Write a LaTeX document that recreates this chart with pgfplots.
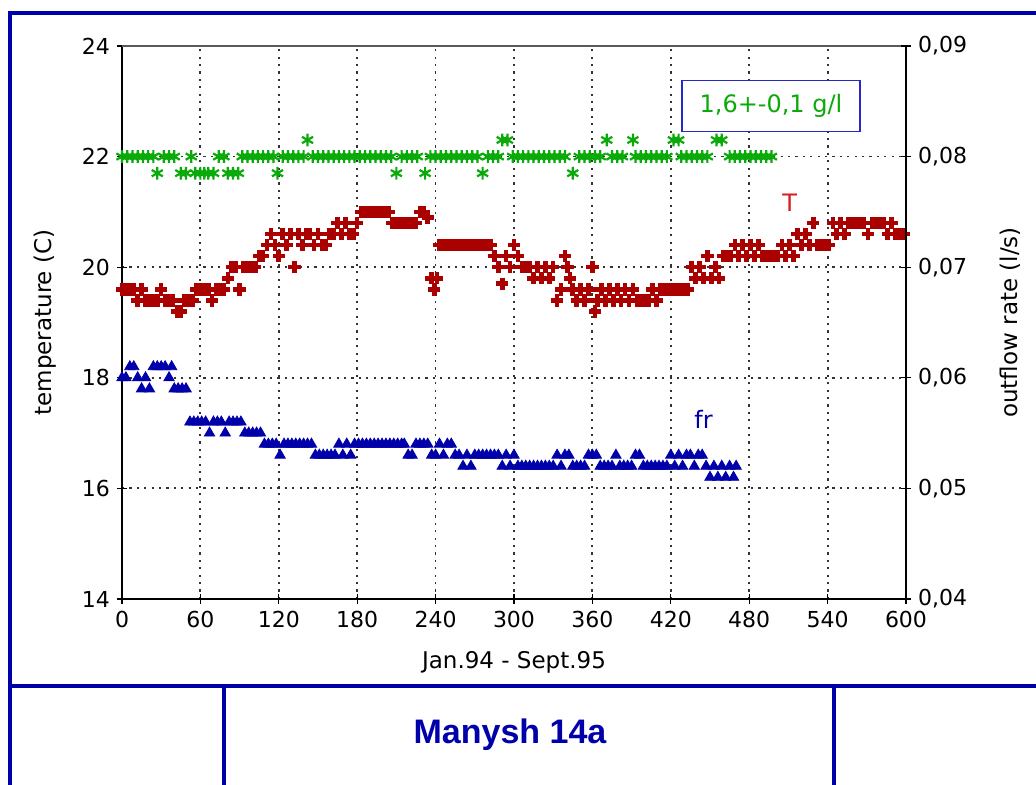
\documentclass[border=0pt]{standalone}
\usepackage{fontspec}
\setmainfont{DejaVu Sans}
\newfontfamily\libsans{Liberation Sans}
\usepackage{pgfplots}
\pgfplotsset{compat=1.18}
\definecolor{tred}{RGB}{170,0,0}
\definecolor{lred}{RGB}{215,30,30}
\definecolor{fblue}{RGB}{0,0,170}
\definecolor{sgreen}{RGB}{10,170,10}
\definecolor{frameblue}{RGB}{0,0,170}
\definecolor{boxblue}{RGB}{40,40,200}
\begin{document}
\begin{tikzpicture}
\path[use as bounding box] (-61pt,-93pt) rectangle (457pt,299.5pt);
\pgfplotsset{
  base/.style={width=392pt,height=276.5pt,scale only axis,
    xmin=0,xmax=600,
    tick label style={font=\fontsize{11}{13}\selectfont},
    label style={font=\fontsize{11.5}{13}\selectfont},
    /pgf/number format/assume math mode=true,
    tick align=center, major tick length=5pt,
    axis line style={black,line width=0.6pt},
    tick style={black,line width=0.6pt},
    clip=false}
}
\begin{axis}[base,
  ymin=14,ymax=24, ytick={14,16,18,20,22,24},
  xtick={0,60,120,180,240,300,360,420,480,540,600},
  axis x line*=bottom, axis y line*=left,
  grid=major, major grid style={black!80,line width=0.9pt,dash pattern=on 1.1pt off 2.6pt},
  ylabel={temperature (C)},
  ylabel style={at={(axis description cs:-0.098,0.5)},anchor=center},
  xlabel={Jan.94 - Sept.95},
  xlabel style={at={(axis description cs:0.5,-0.114)},anchor=center},
]
\draw[gray!70!black,line width=0.8pt] (axis cs:0,24) -- (axis cs:600,24);
% salinity (green)
\addplot[only marks, mark=asterisk, mark size=3.2pt, sgreen, line width=1.1pt] coordinates {
(0,22)(4,22)(8,22)(12,22)(16,22)(20,22)(24,22)(27,21.7)(32,22)(36,22)(40,22)
(45,21.7)(49,21.7)(53,22)(56,21.7)(60,21.7)(63,21.7)(66,21.7)(70,21.7)(74,22)(78,22)
(81,21.7)(85,21.7)(89,21.7)(92,22)(96,22)(100,22)(104,22)(108,22)(112,22)(116,22)
(119,21.7)(123,22)(127,22)(131,22)(135,22)(139,22)(142,22.3)(146,22)(150,22)(154,22)
(158,22)(162,22)(166,22)(170,22)(174,22)(178,22)(182,22)(186,22)(190,22)(194,22)
(198,22)(202,22)(206,22)(210,21.7)(214,22)(218,22)(222,22)(226,22)(232,21.7)(236,22)
(240,22)(244,22)(248,22)(252,22)(256,22)(260,22)(264,22)(268,22)(272,22)(276,21.7)
(280,22)(284,22)(288,22)(291,22.3)(295,22.3)(299,22)(303,22)(307,22)(311,22)(315,22)
(319,22)(323,22)(327,22)(331,22)(335,22)(339,22)(345,21.7)(350,22)(354,22)(358,22)
(362,22)(366,22)(371,22.3)(375,22)(379,22)(383,22)(391,22.3)(393,22)(397,22)(401,22)
(405,22)(409,22)(413,22)(417,22)(422,22.3)(426,22.3)(428,22)(432,22)(436,22)(440,22)
(444,22)(448,22)(455,22.3)(459,22.3)(465,22)(469,22)(473,22)(477,22)(481,22)(485,22)
(489,22)(493,22)(497,22)
};
% temperature (red)
\addplot[only marks, mark=+, mark size=3.1pt, tred, line width=2.3pt] coordinates {
(0,19.6)(3,19.6)(6,19.6)(9,19.6)(12,19.4)(15,19.6)(18,19.4)(21,19.4)(24,19.4)(27,19.4)
(30,19.6)(33,19.4)(36,19.4)(39,19.4)(42,19.2)(45,19.2)(48,19.4)(51,19.4)(54,19.4)(57,19.6)
(60,19.6)(63,19.6)(66,19.6)(69,19.4)(72,19.6)(75,19.6)(78,19.6)(81,19.8)(84,20.0)(87,20.0)
(90,19.6)(93,20.0)(96,20.0)(99,20.0)(102,20.0)(105,20.2)(108,20.2)(111,20.4)(114,20.6)(117,20.4)
(120,20.2)(123,20.6)(126,20.4)(129,20.6)(132,20.0)(135,20.6)(138,20.4)(141,20.6)(144,20.6)(147,20.4)
(150,20.6)(153,20.4)(156,20.4)(159,20.6)(162,20.6)(165,20.8)(168,20.6)(171,20.8)(174,20.6)(177,20.6)
(180,20.8)(183,21.0)(186,21.0)(189,21.0)(192,21.0)(195,21.0)(198,21.0)(201,21.0)(204,21.0)(207,20.8)
(210,20.8)(213,20.8)(216,20.8)(219,20.8)(222,20.8)(225,20.8)(228,21.0)(231,21.0)(234,20.9)(237,19.8)
(239,19.6)(241,19.8)(243,20.4)(246,20.4)(249,20.4)(252,20.4)(255,20.4)(258,20.4)(261,20.4)(264,20.4)
(267,20.4)(270,20.4)(273,20.4)(276,20.4)(279,20.4)(282,20.4)(285,20.2)(288,20.0)(291,19.7)(294,20.2)
(297,20.0)(300,20.4)(303,20.2)(306,20.0)(309,20.0)(312,20.0)(315,19.8)(318,20.0)(321,19.8)(324,20.0)
(327,19.8)(330,20.0)(333,19.4)(336,19.6)(339,20.2)(341,20.0)(343,19.8)(345,19.6)(348,19.4)(351,19.6)
(354,19.4)(357,19.6)(360,20.0)(362,19.2)(364,19.4)(367,19.6)(370,19.4)(373,19.6)(376,19.4)(379,19.6)
(382,19.4)(385,19.6)(388,19.4)(391,19.6)(394,19.4)(397,19.4)(400,19.4)(403,19.4)(406,19.6)(409,19.4)
(412,19.6)(415,19.6)(418,19.6)(421,19.6)(424,19.6)(427,19.6)(430,19.6)(433,19.6)(436,20.0)(439,19.8)
(442,20.0)(445,19.8)(448,20.2)(451,19.8)(454,20.0)(457,19.8)(460,20.2)(463,20.2)(466,20.2)(469,20.4)
(472,20.2)(475,20.4)(478,20.2)(481,20.4)(484,20.2)(487,20.4)(490,20.2)(493,20.2)(496,20.2)(499,20.2)
(502,20.2)(505,20.4)(508,20.2)(511,20.4)(514,20.2)(517,20.6)(520,20.4)(523,20.6)(526,20.4)(529,20.8)
(532,20.4)(535,20.4)(538,20.4)(541,20.4)(544,20.8)(547,20.6)(550,20.8)(553,20.6)(556,20.8)(559,20.8)
(562,20.8)(565,20.8)(568,20.8)(571,20.6)(574,20.8)(577,20.8)(580,20.8)(583,20.8)(586,20.6)(589,20.8)
(592,20.6)(595,20.6)(598,20.6)
};
\node[font=\fontsize{12}{14}\selectfont, text=lred] at (axis cs:511,21.16) {T};
\node[font=\fontsize{12}{14}\selectfont, text=fblue] at (axis cs:445,17.24) {fr};
\node[draw=boxblue, fill=white, line width=0.7pt, minimum width=89pt, minimum height=25.5pt,
  text=sgreen, font=\fontsize{12}{14}\selectfont, inner sep=2pt] at (axis cs:496.7,22.92) {1,6+-0,1 g/l\hspace{4pt}};
\end{axis}
\begin{axis}[base,
  ymin=0.04,ymax=0.09, ytick={0.04,0.05,0.06,0.07,0.08,0.09},
  scaled y ticks=false,
  yticklabel style={/pgf/number format/.cd,use comma,fixed,fixed zerofill,precision=2},
  axis y line*=right, axis x line=none,
  ylabel={outflow rate (l/s)},
  ylabel style={at={(axis description cs:1.133,0.5)},anchor=center},
]
\addplot[only marks, mark=triangle*, mark size=3pt, fblue] coordinates {
(0,0.060)(3,0.060)(6,0.061)(9,0.061)(12,0.060)(15,0.059)(18,0.060)(21,0.059)(24,0.061)(27,0.061)
(30,0.061)(33,0.061)(36,0.060)(38,0.061)(40,0.059)(43,0.059)(46,0.059)(49,0.059)(52,0.056)(55,0.056)
(58,0.056)(61,0.056)(64,0.056)(67,0.055)(70,0.056)(73,0.056)(76,0.056)(79,0.055)(82,0.056)(85,0.056)
(88,0.056)(91,0.056)(94,0.055)(97,0.055)(100,0.055)(103,0.055)(106,0.055)(109,0.054)(112,0.054)(115,0.054)
(118,0.054)(121,0.053)(124,0.054)(127,0.054)(130,0.054)(133,0.054)(136,0.054)(139,0.054)(142,0.054)(145,0.054)
(148,0.053)(151,0.053)(154,0.053)(157,0.053)(160,0.053)(163,0.053)(166,0.054)(169,0.053)(172,0.054)(175,0.053)
(178,0.054)(181,0.054)(184,0.054)(187,0.054)(190,0.054)(193,0.054)(196,0.054)(199,0.054)(202,0.054)(205,0.054)
(208,0.054)(211,0.054)(214,0.054)(216,0.054)(219,0.053)(222,0.053)(225,0.054)(228,0.054)(231,0.054)(234,0.054)
(237,0.053)(240,0.053)(243,0.054)(246,0.053)(249,0.054)(252,0.054)(255,0.053)(258,0.053)(261,0.052)(264,0.053)
(267,0.052)(270,0.053)(273,0.053)(276,0.053)(279,0.053)(282,0.053)(285,0.053)(288,0.053)(291,0.052)(294,0.053)
(297,0.052)(300,0.053)(303,0.052)(306,0.052)(309,0.052)(312,0.052)(315,0.052)(318,0.052)(321,0.052)(324,0.052)
(327,0.052)(330,0.052)(333,0.053)(336,0.052)(339,0.053)(342,0.053)(345,0.052)(348,0.052)(351,0.052)(354,0.052)
(357,0.053)(360,0.053)(363,0.053)(366,0.052)(369,0.052)(372,0.052)(375,0.052)(378,0.053)(381,0.052)(384,0.052)
(387,0.052)(390,0.052)(393,0.053)(396,0.053)(399,0.052)(402,0.052)(405,0.052)(408,0.052)(411,0.052)(414,0.052)
(417,0.052)(420,0.053)(423,0.052)(426,0.053)(429,0.052)(432,0.053)(435,0.053)(438,0.052)(441,0.053)(444,0.053)
(447,0.052)(450,0.051)(453,0.052)(456,0.051)(459,0.052)(462,0.051)(465,0.052)(468,0.051)(470,0.052)
};
\end{axis}
\draw[frameblue, line width=2pt] (-56pt,-93pt) -- (-56pt,293pt) -- (457pt,293pt);
\draw[frameblue, line width=2pt] (-56pt,-43.5pt) -- (457pt,-43.5pt);
\draw[frameblue, line width=2pt] (51pt,-43.5pt) -- (51pt,-93pt);
\draw[frameblue, line width=2pt] (356pt,-43.5pt) -- (356pt,-93pt);
\node[text=frameblue, font=\libsans\bfseries\fontsize{17}{20}\selectfont] at (194pt,-68pt) {Manysh 14a};
\end{tikzpicture}
\end{document}
